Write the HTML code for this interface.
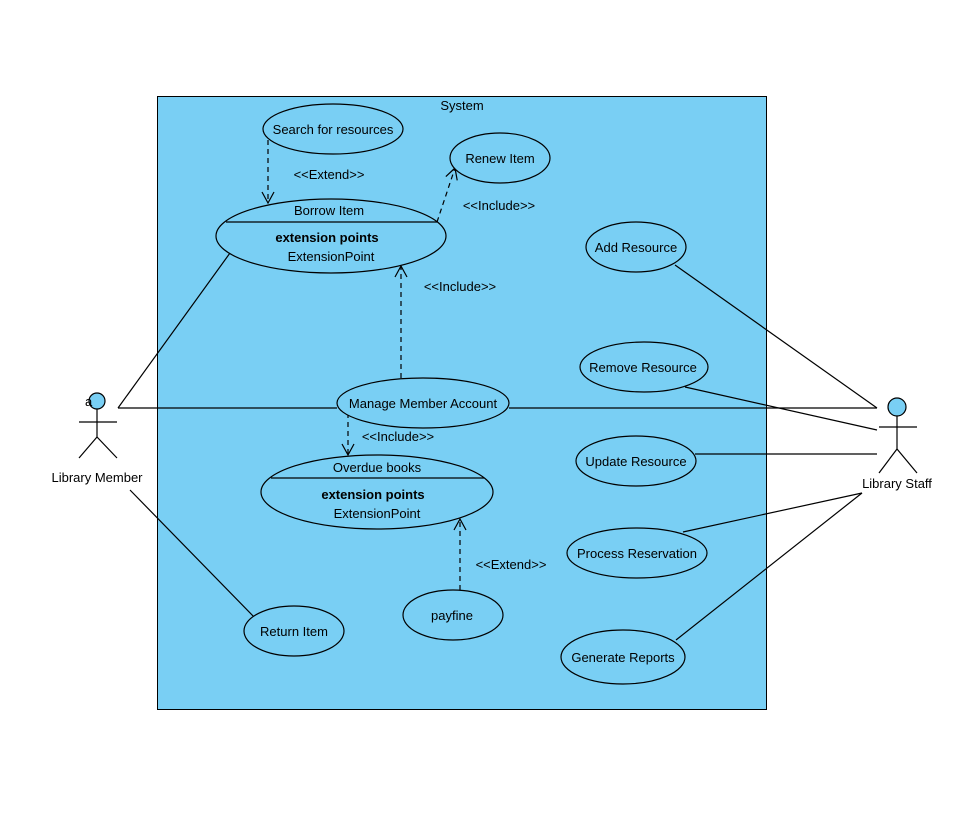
<!DOCTYPE html>
<html><head><meta charset="utf-8"><style>body{margin:0;background:#fff}svg{display:block}text{font-family:"Liberation Sans",sans-serif;font-size:13px;fill:#000}</style></head><body>
<svg width="975" height="834" viewBox="0 0 975 834">
<defs><marker id="a" markerWidth="14" markerHeight="14" refX="12" refY="7" orient="auto" markerUnits="userSpaceOnUse"><path d="M1,1 L12,7 L1,13" fill="none" stroke="#000" stroke-width="1.2"/></marker></defs>
<rect x="157.5" y="96.5" width="609" height="613" fill="#79CFF4" stroke="#000"/>
<text x="462" y="110" text-anchor="middle">System</text>
<g stroke="#000" stroke-width="1.2" fill="none">
<line x1="118" y1="408" x2="230" y2="253"/>
<line x1="118" y1="408" x2="337" y2="408"/>
<line x1="509" y1="408" x2="877" y2="408"/>
<line x1="130" y1="490" x2="255" y2="618"/>
<line x1="675" y1="265" x2="877" y2="408"/>
<line x1="685" y1="387" x2="877" y2="430"/>
<line x1="695" y1="454" x2="877" y2="454"/>
<line x1="683" y1="532" x2="862" y2="493"/>
<line x1="676" y1="640" x2="862" y2="493"/>
<g stroke-dasharray="5,4" marker-end="url(#a)">
<line x1="268" y1="140" x2="268" y2="203"/>
<line x1="437" y1="222" x2="455" y2="168"/>
<line x1="401" y1="378" x2="401" y2="266"/>
<line x1="348" y1="413" x2="348" y2="455"/>
<line x1="460" y1="590" x2="460" y2="519"/>
</g>
</g>
<g stroke="#000" stroke-width="1.2" fill="#79CFF4">
<ellipse cx="333" cy="129" rx="70" ry="25"/>
<ellipse cx="500" cy="158" rx="50" ry="25"/>
<ellipse cx="331" cy="236" rx="115" ry="37"/>
<ellipse cx="423" cy="403" rx="86" ry="25"/>
<ellipse cx="377" cy="492" rx="116" ry="37"/>
<ellipse cx="453" cy="615" rx="50" ry="25"/>
<ellipse cx="294" cy="631" rx="50" ry="25"/>
<ellipse cx="636" cy="247" rx="50" ry="25"/>
<ellipse cx="644" cy="367" rx="64" ry="25"/>
<ellipse cx="636" cy="461" rx="60" ry="25"/>
<ellipse cx="637" cy="553" rx="70" ry="25"/>
<ellipse cx="623" cy="657" rx="62" ry="27"/>
<line x1="226" y1="222" x2="437" y2="222"/>
<line x1="271" y1="478" x2="484" y2="478"/>
<circle cx="97" cy="401" r="8"/>
<circle cx="897" cy="407" r="9"/>
</g>
<g stroke="#000" stroke-width="1.2" fill="none">
<line x1="97" y1="409" x2="97" y2="437"/><line x1="79" y1="422" x2="117" y2="422"/><polyline points="79,458 97,437 117,458"/>
<line x1="897" y1="416" x2="897" y2="449"/><line x1="879" y1="427" x2="917" y2="427"/><polyline points="879,473 897,449 917,473"/>
</g>
<text x="85" y="406" font-size="13">a</text>
<g text-anchor="middle">
<text x="333" y="134">Search for resources</text>
<text x="500" y="163">Renew Item</text>
<text x="329" y="215">Borrow Item</text>
<text x="327" y="242" font-weight="bold">extension points</text>
<text x="331" y="261">ExtensionPoint</text>
<text x="423" y="408">Manage Member Account</text>
<text x="377" y="472">Overdue books</text>
<text x="373" y="499" font-weight="bold">extension points</text>
<text x="377" y="518">ExtensionPoint</text>
<text x="452" y="620">payfine</text>
<text x="294" y="636">Return Item</text>
<text x="636" y="252">Add Resource</text>
<text x="643" y="372">Remove Resource</text>
<text x="636" y="466">Update Resource</text>
<text x="637" y="558">Process Reservation</text>
<text x="623" y="662">Generate Reports</text>
<text x="329" y="179">&lt;&lt;Extend&gt;&gt;</text>
<text x="499" y="210">&lt;&lt;Include&gt;&gt;</text>
<text x="460" y="291">&lt;&lt;Include&gt;&gt;</text>
<text x="398" y="441">&lt;&lt;Include&gt;&gt;</text>
<text x="511" y="569">&lt;&lt;Extend&gt;&gt;</text>
<text x="97" y="482">Library Member</text>
<text x="897" y="488">Library Staff</text>
</g>
</svg>
</body></html>
